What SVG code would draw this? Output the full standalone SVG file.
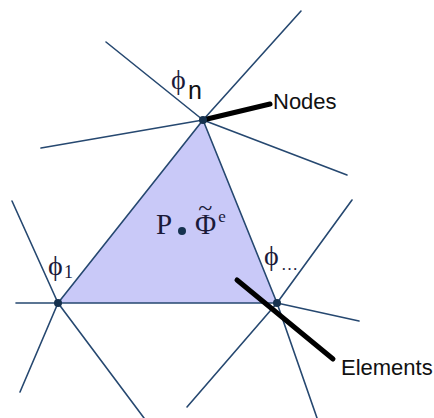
<svg xmlns="http://www.w3.org/2000/svg" width="434" height="418" viewBox="0 0 434 418">
<style>
.ln{stroke:#264870;stroke-width:1.6;fill:none;stroke-linecap:round}
.lead{stroke:#000;stroke-width:5;stroke-linecap:round}
.dot{fill:#16324f}
.ser{font-family:"Liberation Serif","DejaVu Serif",serif;fill:#1a1a3a}
.san{font-family:"Liberation Sans",Arial,sans-serif;fill:#111}
</style>
<rect width="434" height="418" fill="#fff"/>
<polygon id="element" points="58,303 203,120 277,303" fill="#c9c9f8" stroke="#264870" stroke-width="1.6" stroke-linejoin="round"/>
<g id="connectors">
<line class="ln" x1="203" y1="120" x2="106" y2="42"/>
<line class="ln" x1="203" y1="120" x2="301" y2="11"/>
<line class="ln" x1="203" y1="120" x2="347" y2="175"/>
<line class="ln" x1="203" y1="120" x2="41" y2="148"/>
<line class="ln" x1="58" y1="303" x2="12" y2="201"/>
<line class="ln" x1="58" y1="303" x2="16" y2="303"/>
<line class="ln" x1="58" y1="303" x2="20" y2="392"/>
<line class="ln" x1="58" y1="303" x2="144" y2="418"/>
<line class="ln" x1="277" y1="303" x2="352" y2="200"/>
<line class="ln" x1="277" y1="303" x2="359" y2="321"/>
<line class="ln" x1="277" y1="303" x2="187" y2="407"/>
<line class="ln" x1="277" y1="303" x2="317" y2="418"/>
<line class="lead" x1="203" y1="120" x2="270" y2="104"/>
<line class="lead" x1="237" y1="280" x2="333" y2="359"/>
</g>
<g id="node-n">
<circle class="dot" cx="203" cy="120" r="4"/>
<text class="ser" x="171" y="89" font-size="28">ϕ</text>
<text class="san" x="188" y="99" font-size="25" fill="#1a1a3a">n</text>
</g>
<g id="node-1">
<circle class="dot" cx="58" cy="303" r="4"/>
<text class="ser" x="48" y="275" font-size="28">ϕ</text>
<text class="ser" x="64" y="278" font-size="18">1</text>
</g>
<g id="node-3">
<circle class="dot" cx="277" cy="303" r="4"/>
<text class="ser" x="264" y="265" font-size="28">ϕ</text>
<text class="ser" x="281" y="270" font-size="17" fill="#555">…</text>
</g>
<g id="point-P">
<circle class="dot" cx="182" cy="231" r="4"/>
<text class="ser" x="156" y="234" font-size="29">P</text>
<text class="ser" x="195" y="234" font-size="29">Φ<tspan font-size="26" dx="-18" dy="-18">~</tspan><tspan font-size="17" dx="6" dy="6">e</tspan></text>
</g>
<g id="label-nodes"><text class="san" x="273" y="109" font-size="22">Nodes</text></g>
<g id="label-elements"><text class="san" x="341" y="375" font-size="22">Elements</text></g>
</svg>
